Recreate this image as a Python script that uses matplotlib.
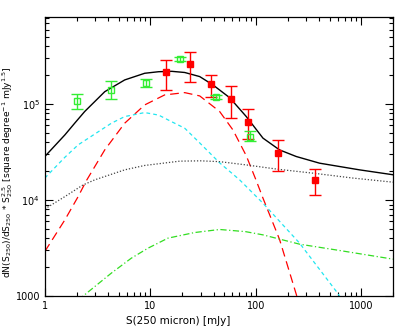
import numpy as np
import matplotlib
matplotlib.use('Agg')
from matplotlib import pyplot as plt
from matplotlib.ticker import LogLocator, NullFormatter, FixedLocator, FixedFormatter

# Red filled squares with error bars
red_x = [14.0, 24.0, 37.3, 57.7, 84.2, 164.0, 366.0]
red_y = [2.15e5, 2.65e5, 1.63e5, 1.14e5, 6.6e4, 3.13e4, 1.62e4]
red_lo = [1.41e5, 1.72e5, 1.20e5, 7.1e4, 4.3e4, 2.02e4, 1.13e4]
red_hi = [2.89e5, 3.53e5, 2.00e5, 1.56e5, 8.9e4, 4.2e4, 2.1e4]

# Green open squares with error bars
green_x = [2.02, 4.28, 9.04, 19.3, 41.6, 88.7]
green_y = [1.08e5, 1.41e5, 1.66e5, 2.94e5, 1.18e5, 4.6e4]
green_lo = [9.0e4, 1.14e5, 1.50e5, 2.80e5, 1.12e5, 4.15e4]
green_hi = [1.29e5, 1.74e5, 1.82e5, 3.08e5, 1.24e5, 5.2e4]

# Model curves
total_x = [1, 1.55, 1.92, 2.39, 3.7, 5.72, 8.85, 12, 16, 21.2, 29.4, 39.2, 56.5, 81.3,
           117, 168, 242, 402, 962, 2000]
total_y = [2.85e4, 4.79e4, 6.34e4, 8.4e4, 1.35e5, 1.79e5, 2.1e5, 2.18e5, 2.2e5, 2.14e5,
           1.94e5, 1.59e5, 1.17e5, 7.43e4, 4.43e4, 3.34e4, 2.85e4, 2.43e4, 2.07e4, 1.84e4]

red_cx = [1, 1.55, 2.07, 2.48, 3.7, 5.72, 8.85, 13.7, 21.2, 29.4, 45.4, 60.7, 81.3,
          101, 117, 168, 245, 265]
red_cy = [2.92e3, 6.24e3, 1.09e4, 1.6e4, 3.34e4, 6.34e4, 9.83e4, 1.25e5, 1.32e5, 1.22e5,
          8.4e4, 5.4e4, 2.9e4, 1.6e4, 1.05e4, 3.9e3, 1.0e3, 8.0e2]

cyan_x = [1, 1.55, 2.07, 4.28, 5.72, 8.85, 12, 15.8, 21.2, 29.4, 45.4, 70.2, 117,
          260, 599, 660]
cyan_y = [1.7e4, 2.8e4, 3.77e4, 6.34e4, 7.43e4, 8.18e4, 7.7e4, 6.6e4, 5.62e4, 3.95e4,
          2.45e4, 1.63e4, 9.3e3, 3.57e3, 1.07e3, 9.0e2]

dot_x = [1, 1.55, 2.3, 2.98, 5.72, 8.85, 19, 30, 45.4, 81.3, 162, 366, 831, 2000]
dot_y = [8.1e3, 1.09e4, 1.44e4, 1.63e4, 2.07e4, 2.3e4, 2.55e4, 2.57e4, 2.52e4, 2.33e4,
         2.1e4, 1.9e4, 1.7e4, 1.54e4]

dd_x = [2.1, 2.3, 4.28, 6.62, 9.51, 14.7, 26.3, 45.4, 80, 117, 260, 578, 2000]
dd_y = [9.0e2, 1.0e3, 1.74e3, 2.49e3, 3.16e3, 4.02e3, 4.6e3, 4.95e3, 4.7e3, 4.35e3,
        3.48e3, 3.03e3, 2.43e3]

xticks = [1, 10, 100, 1000]
xtick_labels = ['1', '10', '100', '1000']
yticks = [1000, 1e4, 1e5]
ytick_labels = ['1000', '10$^4$', '10$^5$']


def main():
  fig = plt.figure(figsize=(4.15, 3.32), dpi=100)
  ax = fig.add_axes([0.108, 0.108, 0.839, 0.840])

  ax.plot(total_x, total_y, color='black', lw=1.0)
  ax.plot(red_cx, red_cy, color='red', lw=0.9, dashes=(7, 4))
  ax.plot(cyan_x, cyan_y, color='#22e6f0', lw=0.9, dashes=(3, 2.5))
  ax.plot(dot_x, dot_y, color='#444444', lw=0.9, dashes=(1, 1.5))
  ax.plot(dd_x, dd_y, color='#33dd22', lw=0.9, dashes=(5, 2, 1, 2))

  ry = np.array(red_y)
  ax.errorbar(red_x, red_y, yerr=[ry - np.array(red_lo), np.array(red_hi) - ry],
              fmt='s', color='red', ms=5, capsize=4, elinewidth=1, capthick=1)
  gy = np.array(green_y)
  ax.errorbar(green_x, green_y, yerr=[gy - np.array(green_lo), np.array(green_hi) - gy],
              fmt='s', color='#33ee33', mfc='none', mec='#33ee33', ms=5, mew=1,
              capsize=4, elinewidth=1, capthick=1)

  ax.set_xscale('log')
  ax.set_yscale('log')
  ax.set_xlim(1, 2000)
  ax.set_ylim(1000, 8.05e5)

  ax.xaxis.set_major_locator(FixedLocator(xticks))
  ax.xaxis.set_major_formatter(FixedFormatter(xtick_labels))
  ax.yaxis.set_major_locator(FixedLocator(yticks))
  ax.yaxis.set_major_formatter(FixedFormatter(ytick_labels))
  ax.xaxis.set_minor_locator(LogLocator(base=10, subs=np.arange(2, 10)))
  ax.yaxis.set_minor_locator(LogLocator(base=10, subs=np.arange(2, 10)))
  ax.xaxis.set_minor_formatter(NullFormatter())
  ax.yaxis.set_minor_formatter(NullFormatter())
  ax.tick_params(which='both', direction='in', top=True, right=True, labelsize=7, width=0.8)
  ax.tick_params(which='major', length=6)
  ax.tick_params(which='minor', length=3)
  for s in ax.spines.values():
    s.set_linewidth(0.9)

  ax.set_xlabel('S(250 micron) [mJy]', fontsize=7.5)
  ax.xaxis.set_label_coords(0.382, -0.072)
  ax.set_ylabel('dN(S$_{250}$)/dS$_{250}$ * S$_{250}^{2.5}$ [square degree$^{-1}$ mJy$^{1.5}$]',
                fontsize=6.6)
  ax.yaxis.set_label_coords(-0.085, 0.444)

  fig.savefig('out.png', dpi=100)
  plt.close()


if __name__ == '__main__':
  main()
